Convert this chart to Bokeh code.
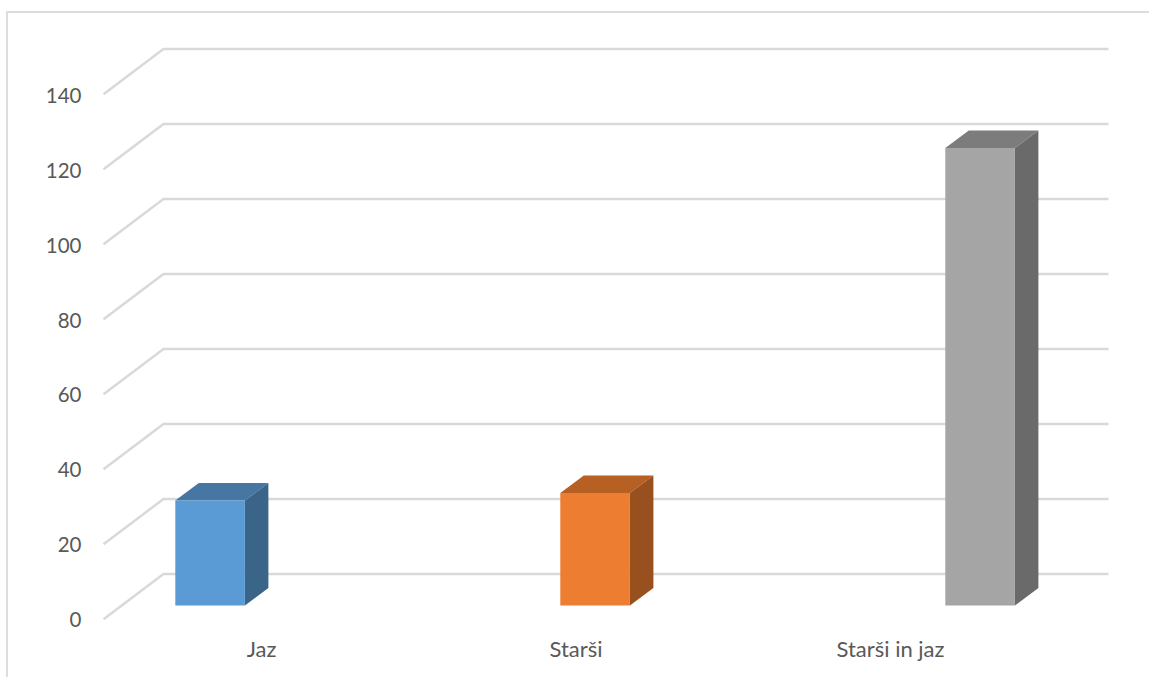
from bokeh.plotting import figure
from bokeh.embed import file_html
from bokeh.resources import INLINE
from bokeh.models import Range1d, LinearAxis, FixedTicker

categories = ["Jaz", "Starši", "Starši in jaz"]
values = [28, 30, 122]
tick_values = [0, 20, 40, 60, 80, 100, 120, 140]
front_colors = ["#5B9BD5", "#ED7D31", "#A5A5A5"]
top_colors = ["#4676A1", "#B66024", "#7C7C7C"]
side_colors = ["#3A6488", "#98501E", "#6A6A6A"]

W, H = 1149, 677
FRAME_L, FRAME_B = 85, 47       # axis panels, px
FRAME_BOTTOM = H - FRAME_B

X0 = 209.6                      # px of the first category
PX_X = 385.0                    # px per category step
PX_Y = 3.75                     # px per value unit
BAR_W = 69.6 / PX_X
DX = 23.5 / PX_X                # bar depth
DY = 17.6 / PX_Y
BACK_DY = 31.5 / PX_Y           # back wall relative to the bar plane
FRONT_DY = -13.7 / PX_Y         # floor's front edge relative to the bar plane
WALL_L = (163 - X0) / PX_X
WALL_R = (1108 - X0) / PX_X
FLOOR_L = (103 - X0) / PX_X

# outer chart border: top and left edges only, reaching the page's right and bottom
BORDER_CSS = """
:host::before {
  content: ""; position: absolute; left: 6px; top: 11px; right: 0; bottom: 0;
  border-left: 2px solid #DDDDDD; border-top: 2px solid #DDDDDD;
  pointer-events: none; z-index: 5;
}
"""

p = figure(width=W, height=H, output_backend="svg", toolbar_location=None,
           x_axis_location=None, y_axis_location=None,
           min_border_left=FRAME_L, min_border_right=0, min_border_top=0,
           min_border_bottom=FRAME_B,
           x_range=Range1d((FRAME_L - X0) / PX_X, (W - X0) / PX_X),
           y_range=Range1d((605 - FRAME_BOTTOM) / PX_Y, 605 / PX_Y),
           background_fill_color="white", border_fill_color="white",
           stylesheets=[BORDER_CSS])
p.grid.visible = False
p.outline_line_color = None

# wall and floor gridlines
GRID = "#D9D9D9"
p.multi_line(xs=[[FLOOR_L, WALL_L, WALL_R] for _ in tick_values],
             ys=[[v + FRONT_DY, v + BACK_DY, v + BACK_DY] for v in tick_values],
             line_color=GRID, line_width=2.5)

# extruded bars
xs = list(range(len(values)))
p.patches(xs=[[x - BAR_W / 2, x - BAR_W / 2 + DX, x + BAR_W / 2 + DX, x + BAR_W / 2] for x in xs],
          ys=[[v, v + DY, v + DY, v] for v in values],
          fill_color=top_colors, line_color=None)
p.patches(xs=[[x + BAR_W / 2, x + BAR_W / 2 + DX, x + BAR_W / 2 + DX, x + BAR_W / 2] for x in xs],
          ys=[[0, DY, v + DY, v] for v in values],
          fill_color=side_colors, line_color=None)
p.vbar(x=xs, top=values, bottom=0, width=BAR_W, fill_color=front_colors, line_color=None)

# axes on their own ranges
p.extra_y_ranges["front"] = Range1d((618.7 - FRAME_BOTTOM) / 3.74, 618.7 / 3.74)
p.extra_x_ranges["labels"] = Range1d((FRAME_L - 261) / 314.5, (W - 261) / 314.5)

yaxis = LinearAxis(y_range_name="front", ticker=FixedTicker(ticks=tick_values))
xaxis = LinearAxis(x_range_name="labels", ticker=FixedTicker(ticks=xs),
                   major_label_overrides={i: c for i, c in enumerate(categories)})
for ax, standoff, size in ((yaxis, 4, "20.5px"), (xaxis, 4, "22px")):
    ax.axis_line_color = None
    ax.major_tick_line_color = None
    ax.minor_tick_line_color = None
    ax.major_tick_in = 0
    ax.major_tick_out = 0
    ax.minor_tick_out = 0
    ax.major_label_text_font = "Lato"
    ax.major_label_text_font_size = size
    ax.major_label_text_color = "#595959"
    ax.major_label_standoff = standoff
p.add_layout(yaxis, "left")
p.add_layout(xaxis, "below")

open("out.html", "w").write(file_html(p, INLINE))
